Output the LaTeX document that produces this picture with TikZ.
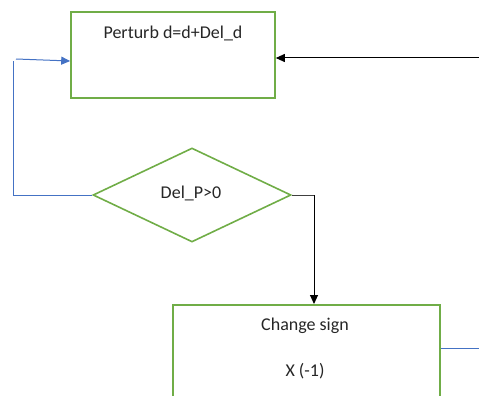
\documentclass[tikz,border=0pt]{standalone}
\usepackage{fontspec}
\setmainfont{Carlito}
\usetikzlibrary{arrows.meta,shapes.geometric}
\definecolor{boxgreen}{HTML}{70AD47}
\definecolor{lineblue}{HTML}{4472C4}
\definecolor{linegray}{HTML}{404040}
\begin{document}
\begin{tikzpicture}[x=1pt,y=-1pt,
  box/.style={draw=boxgreen,line width=1.6pt,rectangle,inner sep=0pt},
  lbl/.style={font=\fontsize{18}{22}\selectfont,text=black!85,inner sep=0pt},
  arr/.style={-{Triangle[length=9pt,width=8pt]}},
]
\useasboundingbox (0,0) rectangle (479,396);
\clip (0,0) rectangle (479,396);
% boxes
\node[box,minimum width=204pt,minimum height=86pt] (top) at (173,55) {};
\node[lbl] (toptext) at (173,33) {Perturb d=d+Del\_d};
\node[draw=boxgreen,line width=1.6pt,diamond,aspect=2.1,minimum width=198pt,minimum height=94pt,inner sep=0pt] (dia) at (192,195) {};
\node[lbl] (diatext) at (191,193) {Del\_P>0};
\node[box,minimum width=267pt,minimum height=140pt,anchor=north west] (bot) at (172,304) {};
\node[lbl] (bottext1) at (305,326) {Change sign};
\node[lbl] (bottext2) at (305,371) {X (-1)};
% coordinates
\coordinate (rin) at (479,58);
\coordinate (lcorner) at (13,195);
\coordinate (ltop) at (13,61);
\coordinate (lstart) at (16,59);
\coordinate (dcorner) at (314,195);
\coordinate (bentry) at (314,304);
\coordinate (rout) at (479,348);
% connectors
\draw[arr,black,line width=1pt] (rin) -- (top.east |- rin);
\draw[lineblue,line width=1pt] (dia.west) -- (lcorner) -- (ltop);
\draw[arr,lineblue,line width=1pt] (lstart) -- (top.west |- 0,61);
\draw[linegray,line width=1pt] (dia.east) -- (dcorner);
\draw[arr,black,line width=1pt] (dcorner) -- (bentry);
\draw[lineblue,line width=1pt] (bot.east |- rout) -- (rout);
\end{tikzpicture}
\end{document}
